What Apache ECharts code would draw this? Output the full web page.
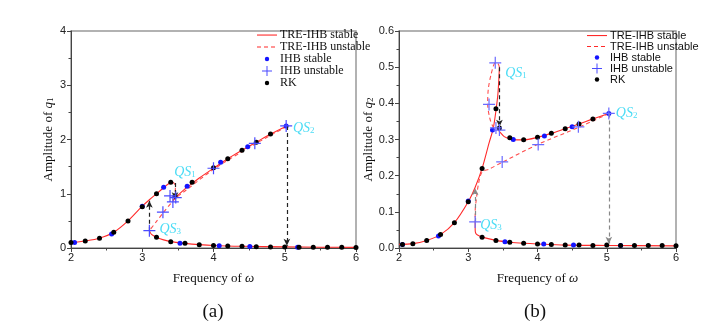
<!DOCTYPE html>
<html>
<head>
<meta charset="utf-8">
<script src="https://cdn.jsdelivr.net/npm/echarts@6/dist/echarts.min.js"></script>
<style>
  html, body { margin: 0; padding: 0; background: #fff; }
  #chart { width: 706px; height: 329px; }
</style>
</head>
<body>
<div id="chart"></div>
<script>
// ---- panel (a): amplitude of q1 ----
let aStableLow = [[2.0,0.10],[2.2,0.13],[2.4,0.18],[2.6,0.29],[2.8,0.50],[3.0,0.77],[3.1,0.89],[3.2,1.00],[3.3,1.11],[3.37,1.185],[3.42,1.21]];
let aLoop = [[3.42,1.21],[3.45,1.19],[3.465,1.12],[3.46,1.02],[3.44,0.93]];
let aStableUp = [[3.43,0.88],[3.5,0.97],[3.6,1.09],[3.7,1.19],[3.8,1.29],[4.0,1.47],[4.2,1.645],[4.4,1.80],[4.6,1.95],[4.8,2.10],[5.03,2.25]];
let aUnstable = [[5.03,2.24],[4.6,1.93],[4.0,1.45],[3.6,1.05],[3.47,0.92],[3.4,0.82],[3.3,0.66],[3.2,0.49],[3.1,0.32]];
let aStableTail = [[3.1,0.32],[3.13,0.25],[3.2,0.20],[3.3,0.15],[3.4,0.117],[3.6,0.086],[3.8,0.063],[4.0,0.047],[4.4,0.032],[5.0,0.02],[5.5,0.015],[6.0,0.012]];
let aIhbStable = [[2.05,0.10],[2.57,0.26],[3.0,0.77],[3.3,1.12],[3.63,1.14],[4.1,1.58],[4.48,1.865],[5.02,2.25],[3.53,0.086],[4.08,0.04],[4.51,0.027],[5.18,0.014]];
let aIhbUnstable = [[3.1,0.32],[3.29,0.66],[3.39,0.96],[3.43,0.85],[3.47,0.93],[4.0,1.47],[4.58,1.93],[5.02,2.25]];
let aRk = [[2.0,0.10],[2.2,0.13],[2.4,0.18],[2.6,0.29],[2.8,0.50],[3.0,0.76],[3.2,1.0],[3.4,1.21],[3.46,0.96],[3.7,1.21],[4.0,1.48],[4.2,1.645],[4.4,1.80],[4.6,1.95],[4.8,2.10],
  [3.2,0.20],[3.4,0.117],[3.6,0.086],[3.8,0.06],[4.0,0.045],[4.2,0.037],[4.4,0.03],[4.6,0.025],[4.8,0.02],[5.0,0.018],[5.2,0.015],[5.4,0.013],[5.6,0.012],[5.8,0.012],[6.0,0.01]];
// jumps: [omega, from, to]
let aJumps = [[3.1,0.32,0.87],[3.46,1.2,0.9],[5.03,2.25,0.04]];
let aQs = [[3.42,1.21,'1'],[5.03,2.25,'2'],[3.1,0.32,'3']];

// ---- panel (b): amplitude of q2 ----
let bStableLow = [[2.0,0.010],[2.2,0.012],[2.4,0.021],[2.6,0.037],[2.8,0.070],[3.0,0.128],[3.1,0.168],[3.2,0.22],[3.3,0.29],[3.36,0.33],[3.4,0.38],[3.43,0.43],[3.45,0.50]];
let bLoop = [[3.45,0.50],[3.43,0.51],[3.39,0.512],[3.33,0.48],[3.29,0.44],[3.28,0.40],[3.31,0.36],[3.36,0.335],[3.42,0.33]];
let bStableUp = [[3.42,0.33],[3.46,0.32],[3.52,0.308],[3.6,0.302],[3.7,0.299],[3.8,0.299],[4.0,0.306],[4.2,0.317],[4.4,0.33],[4.6,0.343],[4.8,0.357],[5.03,0.372]];
let bUnstable = [[5.03,0.372],[4.6,0.334],[4.0,0.286],[3.5,0.238],[3.3,0.218],[3.2,0.21],[3.15,0.18],[3.12,0.14],[3.1,0.10],[3.1,0.072]];
let bStableTail = [[3.1,0.072],[3.1,0.05],[3.11,0.04],[3.14,0.035],[3.2,0.03],[3.4,0.021],[3.6,0.016],[3.8,0.013],[4.0,0.011],[4.4,0.008],[5.0,0.007],[6.0,0.006]];
let bIhbStable = [[2.05,0.010],[2.57,0.033],[3.0,0.13],[3.35,0.326],[3.65,0.300],[4.1,0.31],[4.5,0.335],[5.03,0.372],[3.53,0.017],[4.09,0.011],[4.52,0.008],[5.2,0.007]];
let bIhbUnstable = [[3.39,0.512],[3.3,0.397],[3.4,0.332],[3.45,0.326],[3.49,0.238],[4.01,0.286],[4.59,0.335],[5.03,0.372],[3.1,0.072]];
let bRk = [[2.05,0.010],[2.2,0.012],[2.4,0.021],[2.6,0.037],[2.8,0.07],[3.0,0.128],[3.2,0.22],[3.4,0.385],[3.45,0.332],[3.6,0.305],[3.8,0.299],[4.0,0.306],[4.2,0.317],[4.4,0.33],[4.6,0.343],[4.8,0.357],
  [3.2,0.03],[3.4,0.021],[3.6,0.016],[3.8,0.013],[4.0,0.011],[4.2,0.01],[4.4,0.008],[4.6,0.008],[4.8,0.007],[5.0,0.008],[5.2,0.007],[5.4,0.007],[5.6,0.007],[5.8,0.007],[6.0,0.006]];
let bJumps = [[3.45,0.5,0.335],[3.1,0.072,0.165],[5.03,0.372,0.012]];
let bQs = [[3.39,0.512,'1'],[5.03,0.372,'2'],[3.1,0.072,'3']];

let xTicks = [2, 6, 1];
let legendNames = ['TRE-IHB stable', 'TRE-IHB unstable', 'IHB stable', 'IHB unstable', 'RK'];

// ---- styles ----
const RED = '#ff2a2a';
const CYAN = '#1ed3f2';
const SERIF = '"Liberation Serif", "DejaVu Serif", serif';
const SANS = '"Liberation Sans", Arial, sans-serif';
const CROSS = 'path://M4.5,0H5.5V4.5H10V5.5H5.5V10H4.5V5.5H0V4.5H4.5Z';
const ICONS = [
    'path://M0,0M20,10M0,4.5H20V5.6H0Z',
    'path://M0,0M20,10M0,4.5H4V5.6H0ZM7,4.5H11V5.6H7ZM14,4.5H18V5.6H14Z',
    'path://M0,0M20,10M7.8,5A2.2,2.2,0,1,0,12.2,5A2.2,2.2,0,1,0,7.8,5Z',
    'path://M0,0M20,10M9.5,0H10.5V4.5H15V5.5H10.5V10H9.5V5.5H5V4.5H9.5Z',
    'path://M0,0M20,10M7.8,5A2.2,2.2,0,1,0,12.2,5A2.2,2.2,0,1,0,7.8,5Z'
];

function xAxisOf(gi) {
    return {
        type: 'value', gridIndex: gi, min: xTicks[0], max: xTicks[1], interval: xTicks[2],
        name: 'Frequency of {i|ω}', nameLocation: 'middle', nameGap: 24,
        nameTextStyle: {fontFamily: SERIF, fontSize: 13, color: '#111',
            rich: {i: {fontFamily: SERIF, fontStyle: 'italic', fontSize: 13, color: '#111'}}},
        axisLine: {show: true, onZero: false, lineStyle: {color: '#444', width: 1}},
        axisTick: {show: true, inside: false, length: 4, lineStyle: {color: '#444'}},
        minorTick: {show: true, splitNumber: 2, length: 2.5, lineStyle: {color: '#444'}},
        axisLabel: {fontFamily: SANS, fontSize: 11, color: '#222', margin: 4},
        splitLine: {show: false}
    };
}

function yAxisOf(gi, max, interval, sub, gap, fmt) {
    return {
        type: 'value', gridIndex: gi, min: 0, max: max, interval: interval,
        name: 'Amplitude of {i|q}{s|' + sub + '}', nameLocation: 'middle', nameGap: gap,
        nameTextStyle: {fontFamily: SERIF, fontSize: 13, color: '#111',
            rich: {
                i: {fontFamily: SERIF, fontStyle: 'italic', fontSize: 13, color: '#111'},
                s: {fontFamily: SERIF, fontSize: 9, color: '#111', verticalAlign: 'bottom', lineHeight: 9}
            }},
        axisLine: {show: true, onZero: false, lineStyle: {color: '#444', width: 1}},
        axisTick: {show: true, inside: false, length: 4, lineStyle: {color: '#444'}},
        minorTick: {show: true, splitNumber: 2, length: 2.5, lineStyle: {color: '#444'}},
        axisLabel: {fontFamily: SANS, fontSize: 11, color: '#222', margin: 5, formatter: fmt},
        splitLine: {show: false}
    };
}

function curve(name, data, gi, dashed) {
    return {
        name: name, type: 'line', xAxisIndex: gi, yAxisIndex: gi, data: data,
        smooth: 0.3, symbol: 'none', showSymbol: false, z: 2,
        itemStyle: {color: RED},
        lineStyle: {color: dashed ? '#ff4d4d' : RED, width: 1.1, type: dashed ? [4, 3] : 'solid'}
    };
}

function dots(name, data, gi, color, symbol, size, z) {
    return {
        name: name, type: 'scatter', xAxisIndex: gi, yAxisIndex: gi, data: data,
        symbol: symbol, symbolSize: size, z: z,
        itemStyle: {color: color, opacity: 1}
    };
}

function jumps(data, gi, colors) {
    return {
        type: 'line', xAxisIndex: gi, yAxisIndex: gi, data: [], z: 3,
        markLine: {
            silent: true, animation: false,
            symbol: ['none', 'arrow'], symbolSize: [5, 7],
            label: {show: false},
            data: data.map(function (j, k) {
                return [
                    {coord: [j[0], j[1]], lineStyle: {color: colors[k], width: 1.2, type: [4, 3]}},
                    {coord: [j[0], j[2]], itemStyle: {color: '#111'}}
                ];
            })
        }
    };
}

function qsLabels(data, gi, offsets) {
    return {
        type: 'scatter', xAxisIndex: gi, yAxisIndex: gi, symbolSize: 0, z: 6, silent: true,
        data: data.map(function (p, k) {
            return {
                value: [p[0], p[1]],
                label: {
                    show: true, position: 'right', offset: offsets[k],
                    formatter: '{q|QS}{s|' + p[2] + '}',
                    rich: {
                        q: {fontFamily: SERIF, fontStyle: 'italic', fontSize: 14, color: CYAN},
                        s: {fontFamily: SERIF, fontSize: 9, color: CYAN, verticalAlign: 'bottom', lineHeight: 9}
                    }
                }
            };
        })
    };
}

function legendOf(left, top, font, size, lh) {
    return {
        orient: 'vertical', left: left, top: top, itemWidth: 20, itemHeight: 10, itemGap: 0,
        padding: 0, selectedMode: false,
        itemStyle: {borderWidth: 0},
        textStyle: {fontFamily: font, fontSize: size, color: '#111', lineHeight: lh, padding: [0, 0, 0, -2]},
        data: legendNames.map(function (n, k) { return {name: n, icon: ICONS[k]}; })
    };
}

let chart = echarts.init(document.getElementById('chart'), null, {renderer: 'canvas'});
let option = {
    animation: false,
    backgroundColor: '#fff',
    grid: [
        {left: 71, top: 31, width: 285, height: 217, show: true, borderColor: '#999', borderWidth: 1.5, outerBoundsMode: 'none'},
        {left: 399, top: 31, width: 277, height: 217, show: true, borderColor: '#999', borderWidth: 1.5, outerBoundsMode: 'none'}
    ],
    xAxis: [xAxisOf(0), xAxisOf(1)],
    yAxis: [
        yAxisOf(0, 4, 1, '1', 16, function (v) { return String(v); }),
        yAxisOf(1, 0.6, 0.1, '2', 24, function (v) { return v.toFixed(1); })
    ],
    legend: [
        legendOf(257, 29, SERIF, 12, 12),
        legendOf(587, 30, SANS, 11, 10.5)
    ],
    graphic: [
        {type: 'text', x: 213, y: 312, style: {text: '(a)', font: '19px ' + SERIF, fill: '#111', textAlign: 'center', textVerticalAlign: 'middle'}},
        {type: 'text', x: 535, y: 312, style: {text: '(b)', font: '19px ' + SERIF, fill: '#111', textAlign: 'center', textVerticalAlign: 'middle'}}
    ],
    series: [
        curve('TRE-IHB stable', aStableLow, 0, false),
        curve('TRE-IHB stable', aStableUp, 0, false),
        curve('TRE-IHB stable', aStableTail, 0, false),
        curve('TRE-IHB unstable', aLoop, 0, true),
        curve('TRE-IHB unstable', aUnstable, 0, true),
        curve('TRE-IHB stable', bStableLow, 1, false),
        curve('TRE-IHB stable', bStableUp, 1, false),
        curve('TRE-IHB stable', bStableTail, 1, false),
        curve('TRE-IHB unstable', bLoop, 1, true),
        curve('TRE-IHB unstable', bUnstable, 1, true),
        jumps(aJumps, 0, ['#222', '#222', '#222']),
        jumps(bJumps, 1, ['#222', '#888', '#888']),
        dots('IHB stable', aIhbStable, 0, '#1414ff', 'circle', 5, 4),
        dots('IHB stable', bIhbStable, 1, '#1414ff', 'circle', 5, 4),
        dots('RK', aRk, 0, '#000', 'circle', 5, 4),
        dots('RK', bRk, 1, '#000', 'circle', 5, 4),
        dots('IHB unstable', aIhbUnstable, 0, '#4a4aff', CROSS, 12, 5),
        dots('IHB unstable', bIhbUnstable, 1, '#6a6aff', CROSS, 12, 5),
        qsLabels(aQs, 0, [[-3, -10], [1, 2], [5, -1]]),
        qsLabels(bQs, 1, [[5, 10], [2, 0], [0, 3]])
    ]
};
chart.setOption(option);
</script>
</body>
</html>
